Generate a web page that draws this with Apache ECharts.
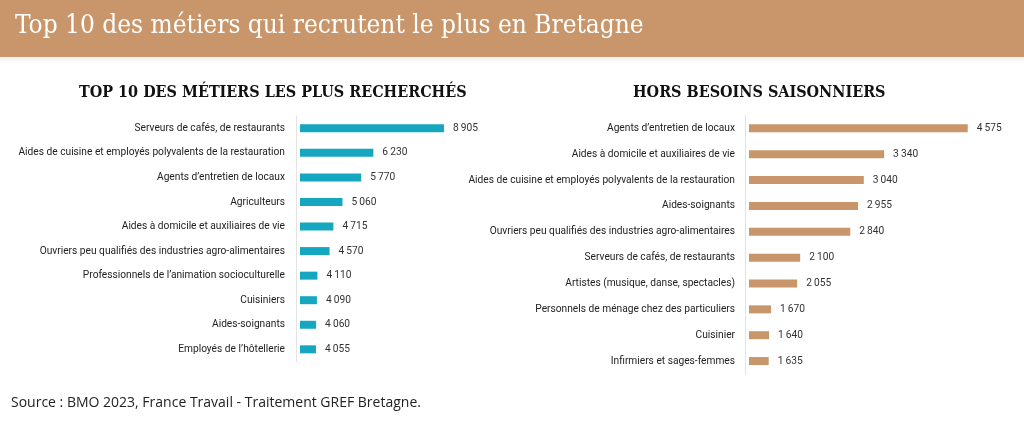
<!DOCTYPE html>
<html><head><meta charset="utf-8">
<script src="https://cdn.jsdelivr.net/npm/echarts@6/dist/echarts.min.js"></script>
<style>html,body{margin:0;padding:0;background:#fff;}#c{width:1024px;height:429px;}</style>
</head><body><div id="c"></div>
<script>
var leftCategories = ["Serveurs de cafés, de restaurants","Aides de cuisine et employés polyvalents de la restauration","Agents d’entretien de locaux","Agriculteurs","Aides à domicile et auxiliaires de vie","Ouvriers peu qualifiés des industries agro-alimentaires","Professionnels de l’animation socioculturelle","Cuisiniers","Aides-soignants","Employés de l’hôtellerie"];
var leftValues = [8905,6230,5770,5060,4715,4570,4110,4090,4060,4055];
var rightCategories = ["Agents d’entretien de locaux","Aides à domicile et auxiliaires de vie","Aides de cuisine et employés polyvalents de la restauration","Aides-soignants","Ouvriers peu qualifiés des industries agro-alimentaires","Serveurs de cafés, de restaurants","Artistes (musique, danse, spectacles)","Personnels de ménage chez des particuliers","Cuisinier","Infirmiers et sages-femmes"];
var rightValues = [4575,3340,3040,2955,2840,2100,2055,1670,1640,1635];
var mainTitle = "Top 10 des métiers qui recrutent le plus en Bretagne";
var leftTitle = "TOP 10 DES MÉTIERS LES PLUS RECHERCHÉS";
var rightTitle = "HORS BESOINS SAISONNIERS";
var sourceText = "Source : BMO 2023, France Travail - Traitement GREF Bretagne.";

function fmt(v){ return String(v).replace(/\B(?=(\d{3})+(?!\d))/g, "\u2009"); }
var catFont = "Roboto";
var chart = echarts.init(document.getElementById('c'), null, {renderer:'canvas'});
function yAx(idx, cats, margin){
  return {type:'category', gridIndex: idx, data: cats, inverse: true, offset: 4,
    axisLine:{show:true, lineStyle:{color:'#e3e3e3', width:1}}, axisTick:{show:false},
    axisLabel:{margin: margin, color:'#222', fontFamily: catFont, fontSize: 10.2}};
}
function ser(idx, vals, color){
  return {type:'bar', xAxisIndex: idx, yAxisIndex: idx, data: vals, barWidth: 8,
    itemStyle:{color: color}, silent:true,
    label:{show:true, position:'right', distance:9, color:'#333', fontFamily: catFont, fontSize:10.2,
      formatter: function(p){return fmt(p.value);}}};
}
chart.setOption({
  animation:false,
  grid:[{left:300, top:116, width:180, height:245.6},{left:749, top:115.4, width:250, height:258.6}],
  xAxis:[{type:'value', gridIndex:0, min:3450, max:10270, show:false},
         {type:'value', gridIndex:1, min:1344, max:5037, show:false}],
  yAxis:[yAx(0,leftCategories,11), yAx(1,rightCategories,10)],
  series:[ser(0,leftValues,'#14A7BF'), ser(1,rightValues,'#C8966A')],
  graphic:[
    {type:'rect', shape:{x:0,y:0,width:1024,height:57}, style:{fill:'#C8966A'}, silent:true},
    {type:'rect', shape:{x:0,y:57,width:1024,height:3}, style:{fill:'#f4f1ee'}, silent:true},
    {type:'text', left:15, top:13, style:{text: mainTitle, fill:'#fff', font:'26px "DejaVu Serif Condensed"'}},
    {type:'text', left:79, top:85, style:{text: leftTitle, fill:'#111', font:'bold 16px "DejaVu Serif Condensed"'}},
    {type:'text', left:633, top:85, style:{text: rightTitle, fill:'#111', font:'bold 16px "DejaVu Serif Condensed"'}},
    {type:'text', left:11, top:396, style:{text: sourceText, fill:'#222', font:'14px "Open Sans"'}}
  ]
});
</script></body></html>
